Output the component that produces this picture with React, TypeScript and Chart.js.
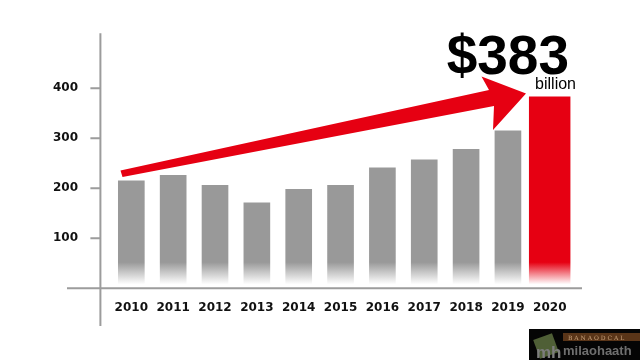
import React, { useEffect, useRef } from "react";
import { Chart, registerables } from "chart.js";

Chart.register(...registerables);

const years = ["2010", "2011", "2012", "2013", "2014", "2015", "2016", "2017", "2018", "2019", "2020"];
const grayValues = [215, 226, 206, 171, 198, 206, 241, 257, 278, 315, null];
const redValues = [null, null, null, null, null, null, null, null, null, null, 383];
const yTicks = [100, 200, 300, 400];
const headline = "$383";
const unitLabel = "billion";

const GRAY = "#999999";
const RED = "#e60012";
const AXIS = "#9c9c9c";

function fadeFill(color: string) {
  return (ctx: any) => {
    const chart = ctx.chart;
    if (!chart.chartArea) return color;
    const y = chart.scales.y;
    const g = chart.ctx.createLinearGradient(0, y.getPixelForValue(52), 0, y.getPixelForValue(8));
    g.addColorStop(0, color);
    g.addColorStop(1, "#ffffff");
    return g;
  };
}

const decorPlugin = {
  id: "decor",
  afterDraw(chart: any) {
    const c = chart.ctx as CanvasRenderingContext2D;
    const area = chart.chartArea;
    const y = chart.scales.y;
    const y0 = y.getPixelForValue(0);
    const axisX = area.left - 10;
    c.save();
    // axes
    c.strokeStyle = AXIS;
    c.lineWidth = 2;
    c.beginPath();
    c.moveTo(axisX, area.top);
    c.lineTo(axisX, 326);
    c.moveTo(67, y0);
    c.lineTo(582, y0);
    yTicks.forEach((v) => {
      const py = y.getPixelForValue(v);
      c.moveTo(axisX - 10, py);
      c.lineTo(axisX, py);
    });
    c.stroke();

    // arrow
    c.fillStyle = RED;
    c.beginPath();
    c.moveTo(120.5, 170.5);
    c.lineTo(489, 90);
    c.lineTo(481.5, 76.5);
    c.lineTo(526, 93.5);
    c.lineTo(493, 130);
    c.lineTo(494, 106);
    c.lineTo(122.5, 177);
    c.closePath();
    c.fill();

    // headline
    c.fillStyle = "#000";
    c.textBaseline = "alphabetic";
    c.textAlign = "right";
    c.font = "bold 55px 'Liberation Sans', Arial, sans-serif";
    c.fillText(headline, 569, 73.5);
    c.font = "16px 'Liberation Sans', Arial, sans-serif";
    c.fillText(unitLabel, 576, 89);

    // watermark
    c.fillStyle = "#050505";
    c.fillRect(529, 329, 111, 31);
    c.fillStyle = "#4f5f36";
    c.save();
    c.translate(546, 346);
    c.rotate(-0.35);
    c.fillRect(-10, -10, 20, 20);
    c.restore();
    c.fillStyle = "#7d7d7d";
    c.font = "bold 17px 'Liberation Sans', sans-serif";
    c.textAlign = "left";
    c.fillText("mh", 536, 358);
    c.fillStyle = "#5a3518";
    c.fillRect(563, 333, 77, 8);
    c.fillStyle = "#c9a27a";
    c.font = "6px 'DejaVu Serif', serif";
    c.fillText("B A N A O D C A L", 568, 339.5);
    c.fillStyle = "#6f6f6f";
    c.font = "bold 13px 'Liberation Sans', sans-serif";
    c.fillText("milaohaath", 563, 355);
    c.restore();
  },
};

export default function App() {
  const ref = useRef<HTMLCanvasElement>(null);
  useEffect(() => {
    if (!ref.current) return;
    const chart = new Chart(ref.current, {
      type: "bar",
      data: {
        labels: years,
        datasets: [
          {
            data: grayValues as any,
            backgroundColor: fadeFill(GRAY) as any,
            barThickness: 26,
            grouped: false,
            borderWidth: 0,
          },
          {
            data: redValues as any,
            backgroundColor: fadeFill(RED) as any,
            barThickness: 41,
            grouped: false,
            borderWidth: 0,
          },
        ],
      },
      options: {
        animation: false,
        responsive: false,
        events: [],
        layout: { padding: { left: 0, right: 69.3, top: 33.3, bottom: 0 } },
        plugins: { legend: { display: false }, tooltip: { enabled: false } },
        scales: {
          x: {
            grid: { display: false },
            border: { display: false },
            ticks: {
              autoSkip: false,
              maxRotation: 0,
              padding: 4,
              color: "#111",
              font: { family: "'DejaVu Sans', Verdana, sans-serif", weight: "bold", size: 12 },
            },
            afterFit: (axis: any) => {
              axis.height = 71.7;
            },
          },
          y: {
            min: 0,
            max: 510,
            grid: { display: false },
            border: { display: false },
            afterBuildTicks: (axis: any) => {
              axis.ticks = yTicks.map((value) => ({ value }));
            },
            ticks: {
              padding: 24.4,
              color: "#111",
              font: { family: "'DejaVu Sans', Verdana, sans-serif", weight: "bold", size: 12 },
            },
            afterFit: (axis: any) => {
              axis.width = 110.4;
            },
          },
        },
      },
      plugins: [decorPlugin],
    });
    return () => chart.destroy();
  }, []);
  return (
    <div style={{ position: "fixed", left: 0, top: 0, width: 640, height: 360, background: "#fff" }}>
      <canvas ref={ref} width={640} height={360} style={{ display: "block" }} />
    </div>
  );
}
